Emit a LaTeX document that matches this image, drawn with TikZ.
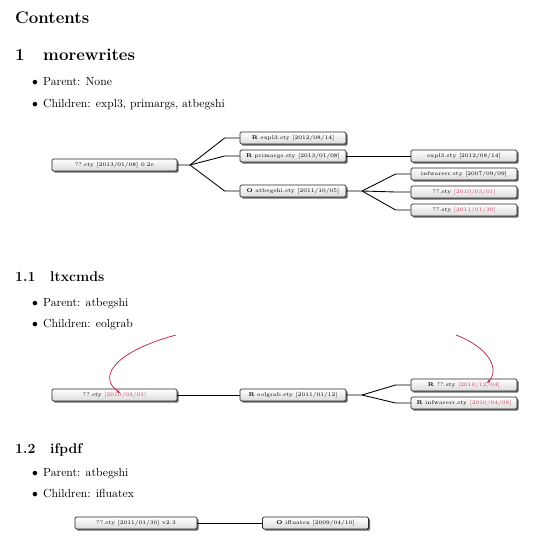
\documentclass[tikz,border=0pt]{standalone}
\usetikzlibrary{shadows,arrows.meta,calc}
\definecolor{datered}{RGB}{205,60,90}
\definecolor{curvered}{RGB}{185,30,55}
\newcommand{\dr}[1]{\textcolor{datered}{#1}}
\begin{document}
\begin{tikzpicture}[x=0.855pt,y=-0.855pt,
  pkg/.style={draw=black!85, line width=0.65pt, rounded corners=1.2pt,
    top color=white, bottom color=black!14, minimum width=90.6pt,
    minimum height=10.3pt, inner sep=0pt,
    font=\fontsize{4.7}{5.5}\selectfont,
    drop shadow={shadow xshift=1.4pt, shadow yshift=-1.4pt, fill=black!70, opacity=0.85}},
  conn/.style={draw=black, line width=0.75pt},
  curv/.style={draw=curvered, line width=0.6pt, -{Stealth[length=3pt,width=2.4pt]}},
  txt/.style={anchor=base west, inner sep=0pt, font=\normalsize},
  sec/.style={anchor=base west, inner sep=0pt, font=\Large\bfseries},
  subsec/.style={anchor=base west, inner sep=0pt, font=\large\bfseries},
  bul/.style={anchor=base, inner sep=0pt, font=\normalsize}]
\useasboundingbox (0,0) rectangle (540,546);

% Headings and text
\node[sec] (contents) at (15,24) {Contents};
\node[sec] (s1n) at (15,61) {1};
\node[sec] (s1t) at (43,61) {morewrites};
\node[bul] (b1) at (35,86) {$\bullet$};
\node[txt] (t1) at (43,86) {Parent: None};
\node[bul] (b2) at (35,108) {$\bullet$};
\node[txt] (t2) at (43,108) {Children: expl3, primargs, atbegshi};

\node[subsec] (s2n) at (15,281) {1.1};
\node[subsec] (s2t) at (50,281) {ltxcmds};
\node[bul] (b3) at (35,306) {$\bullet$};
\node[txt] (t3) at (43,306) {Parent: atbegshi};
\node[bul] (b4) at (35,327) {$\bullet$};
\node[txt] (t4) at (43,327) {Children: eolgrab};

\node[subsec] (s3n) at (15,453) {1.2};
\node[subsec] (s3t) at (50,453) {ifpdf};
\node[bul] (b5) at (35,476) {$\bullet$};
\node[txt] (t5) at (43,476) {Parent: atbegshi};
\node[bul] (b6) at (35,497) {$\bullet$};
\node[txt] (t6) at (43,497) {Children: ifluatex};

% Tree 1
\node[pkg, minimum width=106.9pt] (root1) at (114.5,165) {??.sty [2013/01/08] 0.2e};
\node[pkg] (expl) at (293,138) {\textbf{R} expl3.sty [2012/08/14]};
\node[pkg] (prim) at (293,156) {\textbf{R} primargs.sty [2013/01/08]};
\node[pkg] (atb) at (293,191) {\textbf{O} atbegshi.sty [2011/10/05]};
\node[pkg] (expl2) at (464,156) {expl3.sty [2012/08/14]};
\node[pkg] (infw) at (464,174) {infwarerr.sty [2007/09/09]};
\node[pkg] (q1) at (464,192) {??.sty \dr{[2010/03/01]}};
\node[pkg] (q2) at (464,210) {??.sty \dr{[2011/01/30]}};

\coordinate (f1) at (190,165);
\coordinate (f2) at (362,191);
\draw[conn] (root1.east) -- (f1) -- ($(expl.west)+(-15,0)$) -- (expl.west);
\draw[conn] (f1) -- ($(prim.west)+(-15,0)$) -- (prim.west);
\draw[conn] (f1) -- ($(atb.west)+(-15,0)$) -- (atb.west);
\draw[conn] (prim.east) -- (expl2.west);
\draw[conn] (atb.east) -- (f2) -- ($(infw.west)+(-15,0)$) -- (infw.west);
\draw[conn] (f2) -- ($(q1.west)+(-15,0)$) -- (q1.west);
\draw[conn] (f2) -- ($(q2.west)+(-15,0)$) -- (q2.west);

% Tree 2
\node[pkg, minimum width=106.9pt] (q3) at (114.5,395) {??.sty \dr{[2010/03/01]}};
\node[pkg] (eol) at (293,395) {\textbf{R} eolgrab.sty [2011/01/12]};
\node[pkg] (rq) at (464,385) {\textbf{R} ??.sty \dr{[2010/12/04]}};
\node[pkg] (rinf) at (464,403) {\textbf{R} infwarerr.sty \dr{[2010/04/08]}};
\coordinate (f3) at (362,395);
\draw[conn] (q3.east) -- (eol.west);
\draw[conn] (eol.east) -- (f3) -- ($(rq.west)+(-15,0)$) -- (rq.west);
\draw[conn] (f3) -- ($(rinf.west)+(-15,0)$) -- (rinf.west);

\coordinate (c1s) at (176,335);
\coordinate (c1e) at (120,393);
\coordinate (c2s) at (456,335);
\coordinate (c2e) at (487,383);
\draw[curv] (c1s) .. controls (120,350) and (95,375) .. (c1e);
\draw[curv] (c2s) .. controls (490,348) and (500,370) .. (c2e);

% Tree 3
\node[pkg, minimum width=104.3pt] (r3) at (136,523) {??.sty [2011/01/30] v2.3};
\node[pkg] (iflu) at (315.5,523) {\textbf{O} ifluatex [2009/04/10]};
\draw[conn] (r3.east) -- (iflu.west);
\end{tikzpicture}
\end{document}
